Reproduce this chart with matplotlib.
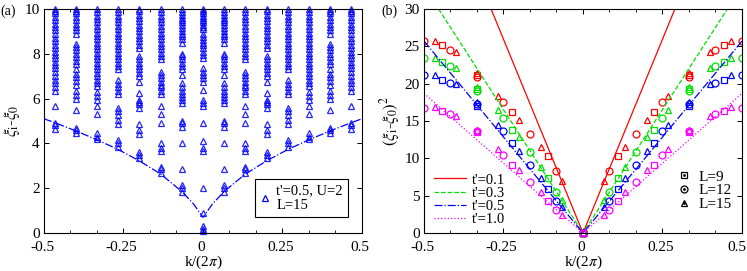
import matplotlib
matplotlib.use("Agg")
import matplotlib.pyplot as plt
import matplotlib.transforms as mtransforms
import numpy as np
from matplotlib.lines import Line2D

plt.rcParams['font.family'] = ['Liberation Serif', 'DejaVu Serif']
plt.rcParams['mathtext.fontset'] = 'stix'
plt.rcParams['font.size'] = 11

# ---------------- Panel (a) data: entanglement levels for L=15 ----------------
# |k|/(2pi) = m/15, spectrum symmetric in k
ka_abs = [0.0, 1/15, 2/15, 3/15, 4/15, 5/15, 6/15, 7/15]
levels_m0 = [0.1, 0.2, 0.3, 0.9, 2.0, 3.65, 3.8, 4.1, 4.9, 5.65, 5.8, 5.95, 6.4,
             6.75, 6.9, 7.05, 7.2, 7.35, 7.8, 7.95, 8.1, 8.25, 8.4, 8.5, 8.6, 8.75, 8.9,
             9.1, 9.2, 9.3, 9.4, 9.5, 9.6, 9.7, 9.8, 9.9, 10.0]
levels_m1 = [1.85, 2.0, 2.15, 2.85, 4.0, 4.75, 4.9, 5.0, 5.8, 5.95, 6.05, 6.2, 6.35,
             6.5, 6.7, 7.05, 7.3, 7.45, 7.6, 7.75, 7.9, 8.0, 8.5, 8.65, 8.8, 8.9, 9.0,
             9.15, 9.3, 9.4, 9.5, 9.6, 9.75, 9.85, 10.0]
levels_m2 = [2.7, 2.85, 2.95, 3.65, 3.8, 4.0, 4.9, 5.3, 5.65, 6.2, 6.35, 6.5, 6.6,
             6.75, 6.9, 7.05, 7.2, 7.75, 7.9, 8.05, 8.2, 8.35, 8.5, 8.65, 8.8, 8.95,
             9.1, 9.25, 9.4, 9.55, 9.7, 9.85, 10.0]
levels_m3 = [3.35, 3.5, 3.6, 4.4, 4.6, 4.85, 5.6, 5.75, 5.85, 5.95, 6.25, 6.75, 7.0,
             7.15, 7.3, 7.45, 7.6, 7.75, 7.9, 8.25, 8.4, 8.55, 8.7, 8.85, 9.0, 9.15,
             9.3, 9.45, 9.6, 9.75, 9.9, 10.0]
levels_m4 = [3.85, 4.0, 4.15, 4.85, 5.05, 5.25, 5.45, 5.6, 6.2, 6.35, 6.5, 6.65, 6.85,
             7.3, 7.45, 7.6, 7.75, 7.9, 8.05, 8.2, 8.35, 8.5, 8.65, 8.8, 8.95, 9.1,
             9.25, 9.4, 9.55, 9.7, 9.85, 10.0]
levels_m5 = [4.2, 4.3, 4.45, 5.3, 5.65, 5.95, 6.1, 6.3, 6.55, 6.7, 6.85, 7.0, 7.15,
             7.3, 7.45, 7.6, 7.75, 7.9, 8.05, 8.2, 8.35, 8.5, 8.65, 8.8, 8.95, 9.1,
             9.25, 9.4, 9.55, 9.7, 9.85, 10.0]
levels_m6 = [4.45, 4.6, 4.7, 5.5, 6.0, 6.15, 6.35, 6.6, 6.8, 6.95, 7.1, 7.3, 7.55,
             7.7, 7.85, 8.0, 8.15, 8.3, 8.45, 8.9, 9.05, 9.2, 9.35, 9.5, 9.65, 9.8,
             9.9, 10.0]
levels_m7 = [4.65, 4.8, 4.9, 5.65, 6.35, 6.5, 6.7, 6.85, 7.0, 7.2, 7.35, 7.5, 7.65,
             7.8, 7.95, 8.1, 8.25, 8.4, 8.55, 8.7, 8.9, 9.05, 9.2, 9.35, 9.5, 9.65,
             9.8, 9.9, 10.0]
levels_a = [levels_m0, levels_m1, levels_m2, levels_m3, levels_m4, levels_m5,
            levels_m6, levels_m7]

# dash-dot guide curve in (a)
curve_a_k = [-0.5, -0.467, -0.4, -0.333, -0.267, -0.2, -0.133, -0.067, -0.03, 0.0,
             0.03, 0.067, 0.133, 0.2, 0.267, 0.333, 0.4, 0.467, 0.5]
curve_a_y = [5.1, 4.93, 4.56, 4.16, 3.73, 3.22, 2.63, 1.86, 1.3, 0.7,
             1.3, 1.86, 2.63, 3.22, 3.73, 4.16, 4.56, 4.93, 5.1]

# ---------------- Panel (b) data ----------------
k_L9 = [1/9, 2/9, 3/9, 4/9]
k_L12 = [1/12, 2/12, 3/12, 4/12, 5/12, 6/12]
k_L15 = [1/15, 2/15, 3/15, 4/15, 5/15, 6/15, 7/15]

tprimes = ["0.1", "0.3", "0.5", "1.0"]
colors = ['#ff0000', '#00e000', '#0000ff', '#ff00ff']
styles = ['-', '--', '-.', ':']

sq_vals = [[10.3, 16.2, 21.2, 25.2],
           [7.4, 13.85, 19.3, 22.9],
           [5.9, 12.05, 17.05, 20.5],
           [4.25, 9.15, 13.5, 16.3]]
ci_vals = [[8.3, 13.3, 17.5, 20.9, 24.55, 25.7],
           [5.45, 10.8, 15.4, 19.0, 22.4, 23.5],
           [4.3, 9.15, 13.6, 17.3, 20.1, 21.2],
           [3.1, 6.8, 10.4, 13.6, 16.0, 16.75]]
tr_vals = [[6.9, 11.5, 15.1, 18.4, 21.4, 24.2, 25.75],
           [4.4, 8.85, 12.8, 16.5, 19.55, 22.1, 23.4],
           [3.45, 7.3, 11.0, 14.5, 17.5, 19.9, 21.1],
           [2.45, 5.45, 8.4, 11.2, 13.8, 15.7, 16.9]]

# fitted lines (through origin)
line_x = [[-0.289, 0.0, 0.289],
          [-0.454, 0.0, 0.454],
          [-0.5, 0.0, 0.5],
          [-0.5, 0.0, 0.5]]
line_y = [[30, 0, 30],
          [30, 0, 30],
          [25.7, 0, 25.7],
          [18.7, 0, 18.7]]

xtick_labels = ['-0.5', '-0.25', '0', '0.25', '0.5']
xtick_vals = [-0.5, -0.25, 0, 0.25, 0.5]

fig = plt.figure(figsize=(7.47, 2.71), dpi=100)
axa = fig.add_axes([0.0589, 0.1402, 0.4257, 0.8266])
axb = fig.add_axes([0.5676, 0.1402, 0.4257, 0.8266])


def style_axes(ax):
    ax.set_xlim(-0.5, 0.5)
    ax.set_xticks(xtick_vals)
    ax.set_xticklabels(xtick_labels)
    ax.set_xticks(np.arange(-6, 7) / 12, minor=True)
    ax.tick_params(which='both', direction='in', top=True, right=True)
    ax.tick_params(which='major', length=3.5, width=0.7, labelsize=11)
    ax.tick_params(axis='x', which='major', pad=5.5)
    ax.tick_params(axis='y', which='major', pad=3)
    ax.tick_params(which='minor', length=2.5, width=0.6)
    for s in ax.spines.values():
        s.set_linewidth(0.8)
    ax.set_xlabel(r'k/(2$\pi$)', fontsize=11, labelpad=0)


def shift_labels(ax, last_extra):
    labels = ax.get_xticklabels()
    for j, lab in enumerate(labels):
        dx = -2 - (last_extra if j == len(labels) - 1 else 0)
        off = mtransforms.ScaledTranslation(dx / 100, 0, fig.dpi_scale_trans)
        lab.set_transform(lab.get_transform() + off)


# ---- (a)
blue = '#0000ff'
for kabs, levs in zip(ka_abs, levels_a):
    ks = [kabs] if kabs == 0 else [-kabs, kabs]
    for kk in ks:
        axa.plot([kk] * len(levs), levs, linestyle='none', marker='^', ms=5,
                 mfc='none', mec=blue, mew=0.9, alpha=0.85, clip_on=False)
axa.plot(curve_a_k, curve_a_y, '-.', color=blue, lw=0.9)
axa.set_ylim(0, 10)
axa.set_yticks([0, 2, 4, 6, 8, 10])
style_axes(axa)
shift_labels(axa, 0)
axa.set_ylabel(r'$\xi_{\rm i}$-$\xi_0$', fontsize=12, labelpad=2)
h = Line2D([], [], linestyle='none', marker='^', ms=5, mfc='none', mec=blue, mew=0.9)
leg = axa.legend([h], ["t'=0.5, U=2\nL=15"], loc='lower right',
                 bbox_to_anchor=(0.956, 0.071), borderaxespad=0, fancybox=False,
                 edgecolor='black', framealpha=1, fontsize=10.5, handlelength=0.7,
                 handletextpad=0.4, borderpad=0.35)
leg.get_frame().set_linewidth(0.8)

# ---- (b)
line_handles = []
for i in range(4):
    c = colors[i]
    lh, = axb.plot(line_x[i], line_y[i], linestyle=styles[i], color=c, lw=0.9)
    line_handles.append(lh)
    for sgn in (-1, 1):
        axb.plot([sgn * k for k in k_L9], sq_vals[i], linestyle='none', marker='s',
                 ms=5, mfc='none', mec=c, mew=0.9)
        axb.plot([sgn * k for k in k_L12], ci_vals[i], linestyle='none', marker='o',
                 ms=5, mfc='none', mec=c, mew=0.9)
        axb.plot([sgn * k for k in k_L15], tr_vals[i], linestyle='none', marker='^',
                 ms=5, mfc='none', mec=c, mew=0.9)
    axb.plot([0, 0, 0], [0, 0, 0], linestyle='none', marker='s', ms=5, mfc='none',
             mec=c, mew=0.9, clip_on=False)
axb.set_ylim(0, 30)
axb.set_yticks([0, 5, 10, 15, 20, 25, 30])
style_axes(axb)
shift_labels(axb, 3)
axb.set_ylabel(r'$(\xi_{\rm i}$-$\xi_0)^2$', fontsize=12, labelpad=2)

leg1 = axb.legend(line_handles, ["t'=" + t for t in tprimes], loc='lower left',
                  bbox_to_anchor=(0.0, -0.015), frameon=False, fontsize=10.5,
                  handlelength=2.2, handletextpad=0.4, labelspacing=0.0,
                  borderaxespad=0.3)
axb.add_artist(leg1)
mk_handles = []
for m in ['s', 'o', '^']:
    a = Line2D([], [], linestyle='none', marker=m, ms=5, mfc='none', mec='black', mew=0.9)
    b = Line2D([], [], linestyle='none', marker='.', ms=2, color='black')
    mk_handles.append((a, b))
axb.legend(mk_handles, ['L=9', 'L=12', 'L=15'], loc='lower right',
           bbox_to_anchor=(1.0, 0.05), frameon=False, fontsize=11,
           handlelength=1.0, handletextpad=0.4, labelspacing=0.0, borderaxespad=0.3)

fig.text(0.001, 0.985, '(a)', fontsize=10, va='top', ha='left')
fig.text(0.510, 0.985, '(b)', fontsize=10, va='top', ha='left')

fig.savefig('out.png', dpi=100)
